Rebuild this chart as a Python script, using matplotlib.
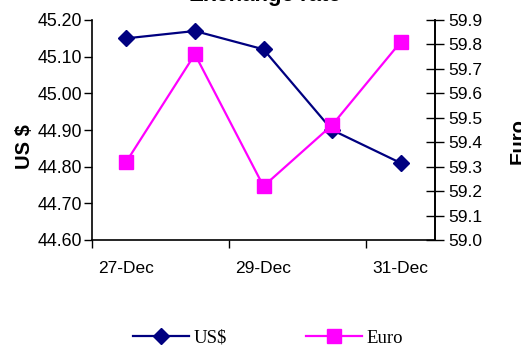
import matplotlib
matplotlib.use("Agg")
import matplotlib.pyplot as plt
from matplotlib.lines import Line2D

dates = ["27-Dec", "28-Dec", "29-Dec", "30-Dec", "31-Dec"]
usd = [45.15, 45.17, 45.12, 44.90, 44.81]
euro = [59.32, 59.76, 59.22, 59.47, 59.81]
shown_labels = ["27-Dec", "29-Dec", "31-Dec"]

W, H = 521, 362
fig = plt.figure(figsize=(W / 100, H / 100), dpi=100)
sans = ["Liberation Sans", "DejaVu Sans"]
serif = ["Liberation Serif", "DejaVu Serif"]

L, R, T, B = 92, 435, 20, 240
ax = fig.add_axes([L / W, (H - B) / H, (R - L) / W, (B - T) / H])
ax2 = ax.twinx()

x = list(range(len(dates)))
ax.plot(x, usd, color="#000080", lw=1.6, marker="D", ms=8, mfc="#000080", mec="#000080", zorder=3)
ax2.plot(x, euro, color="#FF00FF", lw=1.6, marker="s", ms=9.5, mfc="#FF00FF", mec="#FF00FF", zorder=3)

ax.set_xlim(-0.5, len(dates) - 0.5)
ax.set_ylim(44.60, 45.20)
ax2.set_ylim(59.0, 59.9)
ax.set_yticks([44.6 + 0.1 * i for i in range(7)])
ax.set_yticklabels([f"{44.6 + 0.1 * i:.2f}" for i in range(7)], family=sans, fontsize=12.8)
ax2.set_yticks([59.0 + 0.1 * i for i in range(10)])
ax2.set_yticklabels([f"{59.0 + 0.1 * i:.1f}" for i in range(10)], family=sans, fontsize=12.5)

pos = [dates.index(d) for d in shown_labels]
ax.set_xticks(pos)
ax.set_xticklabels(shown_labels, family=sans, fontsize=12.5)
ax.set_xticks([-0.5, 1.5, 3.5], minor=True)
ax.tick_params(axis="x", which="major", length=0, pad=15)
ax.tick_params(axis="x", which="minor", length=6, width=1, direction="out")
ax.tick_params(axis="y", length=6, width=1, direction="out", pad=1)
ax2.tick_params(axis="y", length=13, width=1, direction="inout", pad=3)

for a in (ax, ax2):
    a.spines["top"].set_visible(False)
    for s in a.spines.values():
        s.set_linewidth(1.2)
ax2.spines["left"].set_visible(False)
ax2.spines["bottom"].set_visible(False)

fig.text(265 / W, 1 - 1.5 / H, "Exchange rate", family=sans, fontsize=16, fontweight="bold",
         ha="center", va="baseline")
fig.text(24 / W, 1 - 147 / H, "US $", family=sans, fontsize=14.5, fontweight="bold",
         ha="center", va="center", rotation=90)
fig.text(518 / W, 1 - 141 / H, "Euro", family=sans, fontsize=14.5, fontweight="bold",
         ha="center", va="center", rotation=90)

handles = [
    Line2D([], [], color="#000080", lw=1.6, marker="D", ms=8),
    Line2D([], [], color="#FF00FF", lw=1.6, marker="s", ms=9.5),
]
fig.legend(handles, ["US$", "Euro"], loc="center", bbox_to_anchor=(268 / W, 1 - 338 / H),
           ncol=2, frameon=False, prop={"family": serif, "size": 13.5},
           handlelength=3.0, handletextpad=0.25, columnspacing=4.2)

fig.savefig("out.png", dpi=100)
